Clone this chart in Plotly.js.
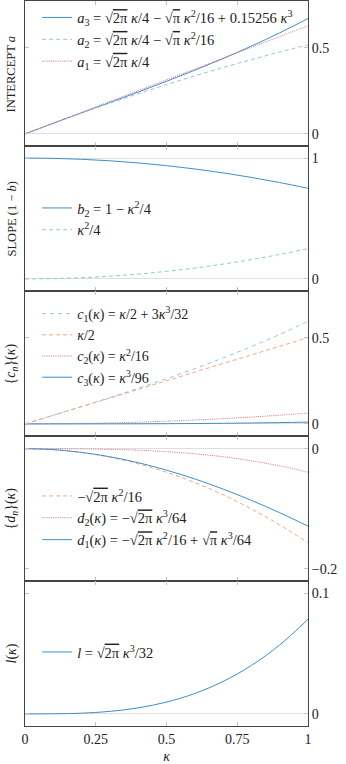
<!DOCTYPE html>
<html>
<head>
<meta charset="utf-8">
<script src="https://cdn.plot.ly/plotly-3.0.1.min.js"></script>
<style>html,body{margin:0;padding:0;background:#fff;}#chart{width:346px;height:764px;}</style>
</head>
<body>
<div id="chart"></div>
<script>
// kappa sample points
const kappa = [0, 0.1, 0.2, 0.3, 0.4, 0.5, 0.6, 0.7, 0.8, 0.9, 1.0];

// Panel 1: intercept a
const a3 = [0, 0.0618, 0.1221, 0.1821, 0.2428, 0.3047, 0.3691, 0.4367, 0.5085, 0.5855, 0.6685];
const a2 = [0, 0.0616, 0.1209, 0.1780, 0.2330, 0.2856, 0.3361, 0.3844, 0.4304, 0.4743, 0.5159];
const a1 = [0, 0.0627, 0.1253, 0.1880, 0.2507, 0.3133, 0.3760, 0.4387, 0.5013, 0.5640, 0.6267];

// Panel 2: slope (1 - b)
const b2 = [1, 0.9975, 0.99, 0.9775, 0.96, 0.9375, 0.91, 0.8775, 0.84, 0.7975, 0.75];
const kSqOver4 = [0, 0.0025, 0.01, 0.0225, 0.04, 0.0625, 0.09, 0.1225, 0.16, 0.2025, 0.25];

// Panel 3: {c_n}
const c1 = [0, 0.0501, 0.1008, 0.1525, 0.2060, 0.2617, 0.3203, 0.3822, 0.4480, 0.5183, 0.5938];
const kHalf = [0, 0.05, 0.1, 0.15, 0.2, 0.25, 0.3, 0.35, 0.4, 0.45, 0.5];
const c2 = [0, 0.0006, 0.0025, 0.0056, 0.01, 0.0156, 0.0225, 0.0306, 0.04, 0.0506, 0.0625];
const c3 = [0, 0.00001, 0.00008, 0.00028, 0.00067, 0.0013, 0.00225, 0.00357, 0.00533, 0.0076, 0.0104];

// Panel 4: {d_n}
const dLead = [0, -0.0016, -0.0063, -0.0141, -0.0251, -0.0392, -0.0564, -0.0768, -0.1003, -0.1269, -0.1567];
const d2 = [0, -0.00004, -0.0003, -0.0011, -0.0025, -0.0049, -0.0085, -0.0134, -0.0201, -0.0286, -0.0392];
const d1 = [0, -0.0015, -0.0061, -0.0134, -0.0233, -0.0357, -0.0504, -0.0673, -0.0861, -0.1067, -0.1290];

// Panel 5: l
const lk = [0, 0.0001, 0.0006, 0.0021, 0.0050, 0.0098, 0.0169, 0.0269, 0.0401, 0.0571, 0.0783];

const xTickVals = [0, 0.25, 0.5, 0.75, 1];
const xTickText = ['0', '0.25', '0.5', '0.75', '1'];

const BLUE = '#3d8fcb', LBLUE = '#92c5de', SALMON = '#f4a582', PINK = '#e36b82';
const FONT = 'Liberation Serif';
const SQ2PI = '√<span style="text-decoration:overline">2π</span>';
const SQPI = '√<span style="text-decoration:overline">π</span>';
const K = '<i>κ</i>';

function tr(y, ax, leg, name, color, dash) {
  return {x: kappa, y: y, type: 'scatter', mode: 'lines', name: name,
    xaxis: 'x' + (ax === 1 ? '' : ax), yaxis: 'y' + (ax === 1 ? '' : ax),
    legend: leg, line: {color: color, width: 1, dash: dash, shape: 'spline'}, hoverinfo: 'skip'};
}

const data = [
  tr(a3, 1, 'legend', '<i>a</i><sub>3</sub> = ' + SQ2PI + ' ' + K + '/4 − ' + SQPI + ' ' + K + '<sup>2</sup>/16 + 0.15256 ' + K + '<sup>3</sup>', BLUE, 'solid'),
  tr(a2, 1, 'legend', '<i>a</i><sub>2</sub> = ' + SQ2PI + ' ' + K + '/4 − ' + SQPI + ' ' + K + '<sup>2</sup>/16', LBLUE, '4px,3px'),
  tr(a1, 1, 'legend', '<i>a</i><sub>1</sub> = ' + SQ2PI + ' ' + K + '/4', PINK, '1px,1.2px'),

  tr(b2, 2, 'legend2', '<i>b</i><sub>2</sub> = 1 − ' + K + '<sup>2</sup>/4', BLUE, 'solid'),
  tr(kSqOver4, 2, 'legend2', K + '<sup>2</sup>/4', LBLUE, '4px,3px'),

  tr(c1, 3, 'legend3', '<i>c</i><sub>1</sub>(' + K + ') = ' + K + '/2 + 3' + K + '<sup>3</sup>/32', LBLUE, '4px,4px'),
  tr(kHalf, 3, 'legend3', K + '/2', SALMON, '4px,3px'),
  tr(c2, 3, 'legend3', '<i>c</i><sub>2</sub>(' + K + ') = ' + K + '<sup>2</sup>/16', PINK, '1px,1.2px'),
  tr(c3, 3, 'legend3', '<i>c</i><sub>3</sub>(' + K + ') = ' + K + '<sup>3</sup>/96', BLUE, 'solid'),

  tr(dLead, 4, 'legend4', '−' + SQ2PI + ' ' + K + '<sup>2</sup>/16', SALMON, '4px,3px'),
  tr(d2, 4, 'legend4', '<i>d</i><sub>2</sub>(' + K + ') = −' + SQ2PI + ' ' + K + '<sup>3</sup>/64', PINK, '1px,1.2px'),
  tr(d1, 4, 'legend4', '<i>d</i><sub>1</sub>(' + K + ') = −' + SQ2PI + ' ' + K + '<sup>2</sup>/16 + ' + SQPI + ' ' + K + '<sup>3</sup>/64', BLUE, 'solid'),

  tr(lk, 5, 'legend5', '<i>l</i> = ' + SQ2PI + ' ' + K + '<sup>3</sup>/32', BLUE, 'solid')
];

const H = 764, T = 1, B = 38;
const plotH = H - T - B;
function py(px) { return 1 - (px - T) / plotH; }

const yRanges = [[-0.07, 0.77], [-0.1, 1.1], [-0.07, 0.77], [-0.2205, 0.0212], [-0.01, 0.11]];
const yTicks = [[0, 0.5], [0, 1], [0, 0.5], [-0.2, 0], [0, 0.1]];
const yTickText = [['0', '0.5'], ['0', '1'], ['0', '0.5'], ['−0.2', '0'], ['0', '0.1']];

const layout = {
  width: 346, height: 764,
  margin: {l: 25, r: 38, t: T, b: B},
  paper_bgcolor: '#fff', plot_bgcolor: '#fff',
  font: {family: FONT, size: 14, color: '#222'},
  showlegend: true,
  annotations: [],
  shapes: []
};

for (let i = 0; i < 5; i++) {
  const n = i + 1;
  const sfx = n === 1 ? '' : n;
  const top = 1 - i * 0.2, bot = 1 - (i + 1) * 0.2;
  layout['xaxis' + sfx] = {
    domain: [0, 1], anchor: 'y' + sfx, range: [0, 1],
    tickvals: xTickVals, ticktext: xTickText,
    ticks: 'inside', ticklen: 4, tickcolor: '#c4c4c4', tickwidth: 1,
    showline: true, linecolor: '#444', linewidth: 1, mirror: 'ticks',
    showgrid: false, zeroline: false,
    showticklabels: n === 5, ticklabelstandoff: 0,
    tickfont: {family: FONT, size: 14, color: '#222'},
    fixedrange: true
  };
  layout['yaxis' + sfx] = {
    domain: [Math.max(bot, 0), Math.min(top, 1)], anchor: 'x' + sfx, side: 'right',
    range: yRanges[i], tickvals: yTicks[i], ticktext: yTickText[i],
    ticks: 'inside', ticklen: 4, tickcolor: '#c4c4c4', tickwidth: 1,
    showline: true, linecolor: '#444', linewidth: 1, mirror: 'ticks',
    showgrid: n === 2, gridcolor: '#dedede', gridwidth: 1,
    zeroline: true, zerolinecolor: '#dedede', zerolinewidth: 1,
    tickfont: {family: FONT, size: 14, color: '#222'},
    fixedrange: true
  };
}
layout.xaxis5.title = {text: '<i>κ</i>', font: {family: FONT, size: 14, color: '#222'}, standoff: 10};

const legendTops = [1.5, 192, 298, 480, 636];
const legendSizes = [14.5, 14.5, 14, 14.5, 14.5];
const legNames = ['legend', 'legend2', 'legend3', 'legend4', 'legend5'];
legNames.forEach((ln, i) => {
  layout[ln] = {
    x: 0.043, xanchor: 'left', y: py(legendTops[i]), yanchor: 'top',
    bgcolor: 'rgba(0,0,0,0)', borderwidth: 0,
    font: {family: FONT, size: legendSizes[i], color: '#222'},
    traceorder: 'normal', itemwidth: 30
  };
});

const yTitles = [
  'INTERCEPT <i>a</i>',
  'SLOPE (1 − <i>b</i>)',
  '{<i>c<sub>n</sub></i>}(<i>κ</i>)',
  '{<i>d<sub>n</sub></i>}(<i>κ</i>)',
  '<i>l</i>(<i>κ</i>)'
];
const yTitleSizes = [12.5, 12.5, 14, 14, 14];
yTitles.forEach((t, i) => {
  layout.annotations.push({
    text: t, textangle: -90, xref: 'paper', yref: 'paper',
    x: -0.046, xanchor: 'center', y: 1 - (i + 0.5) * 0.2, yanchor: 'middle',
    showarrow: false, font: {family: FONT, size: yTitleSizes[i], color: '#222'}
  });
});

Plotly.newPlot('chart', data, layout, {staticPlot: true, displayModeBar: false});
</script>
</body>
</html>
